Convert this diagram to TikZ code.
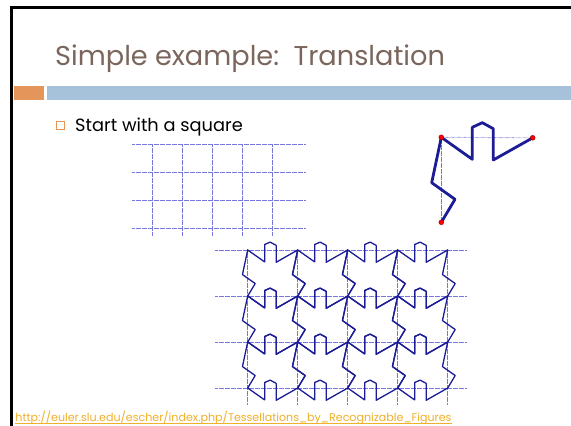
\documentclass[tikz,border=0pt]{standalone}
\usepackage{fontspec}
\setmainfont{Poppins}
\usetikzlibrary{positioning}
\definecolor{titlebrown}{RGB}{122,102,92}
\definecolor{accentorange}{RGB}{228,150,90}
\definecolor{accentblue}{RGB}{166,194,218}
\definecolor{tilenavy}{RGB}{28,28,150}
\definecolor{gridblue}{RGB}{120,120,220}
\definecolor{linkgold}{RGB}{240,176,40}
\tikzstyle{gridline} = [gridblue, line width=0.9pt, dash pattern=on 0.45pt off 0.75pt]
\tikzstyle{motif} = [tilenavy, line width=1.3pt, line join=round]
\tikzstyle{bigmotif} = [tilenavy, line width=2.8pt, line join=round]
\tikzstyle{corner} = [circle, fill=red, draw=red!50!black, line width=0.3pt,
           inner sep=0pt, minimum size=5pt]
\tikzstyle{textline} = [inner sep=0pt, anchor=base west]
\newcommand{\motiftile}{(0,0) -- (0.339,0.259) -- (0.339,-0.118) -- (0.448,-0.172)
  -- (0.569,-0.101) -- (0.569,0.267) -- (1,0) -- (0.895,0.534) -- (1.150,0.729)
  -- (1,1) -- (0.569,1.267) -- (0.569,0.899) -- (0.448,0.828) -- (0.339,0.882)
  -- (0.339,1.259) -- (0,1) -- (0.150,0.729) -- (-0.105,0.534) -- cycle}

\begin{document}
\begin{tikzpicture}[x=1pt, y=-1pt]
\useasboundingbox [fill=white] (0,0) rectangle (571,426);
% slide frame and header bars
\draw [black, line width=3pt] (11.8,426) -- (11.8,7.3) -- (571,7.3);
\fill [accentorange] (13.5,85.5) rectangle (43.5,99.5);
\fill [accentblue] (47,85.5) rectangle (571,99.5);
\node (title) [textline, text=titlebrown, font=\fontsize{27.2}{32}\selectfont]
   at (55,65) {Simple example:\ \ Translation};
\node (bullet) [draw=accentorange, line width=0.7pt, minimum size=8pt, inner sep=0pt]
   at (60,125.8) {};
\node (start) [textline, font=\fontsize{17.8}{20}\selectfont] at (75,131)
   {Start with a square};
% square grid
\foreach \y in {144.7,172.5,200.3,228.5}
  \draw [gridline] (132,\y) -- (305,\y);
\foreach \x in {152,182,212,242,272}
  \draw [gridline] (\x,144) -- (\x,236);
% deformed edges of one square
\coordinate (nw) at (441.3,137.3);
\coordinate (ne) at (532.7,137.8);
\coordinate (sw) at (441.3,222.3);
\draw [gridline] (nw) -- (ne);
\draw [gridline] (nw) -- (sw);
\draw [bigmotif] (nw) -- (472.3,159.3) -- (472.3,127.3) -- (482.3,122.7)
   -- (493.3,128.7) -- (493.3,160) -- (ne);
\draw [bigmotif] (nw) -- (431.7,182.7) -- (455,199.3) -- (sw);
\node (cornerNW) [corner] at (nw) {};
\node (cornerNE) [corner] at (ne) {};
\node (cornerSW) [corner] at (sw) {};
% translated tiles
\foreach \y in {250,296,342,388}
  \draw [gridline] (215,\y) -- (466,\y);
\foreach \x in {247.7,297.7,347.7,397.7,447.7}
  \draw [gridline] (\x,249) -- (\x,404);
\foreach \col in {0,...,3}
  \foreach \row in {0,1,2}
    \draw [motif, shift={({247.7+50*\col},{250+46*\row})}, xscale=50, yscale=46]
      \motiftile;
\node (link) [textline, text=linkgold, font=\fontsize{11.1}{13}\selectfont] at (15.3,421.5)
   {http://euler.slu.edu/escher/index.php/Tessellations\_by\_Recognizable\_Figures};
\draw [linkgold, line width=0.7pt] ([yshift=-2pt]link.base west) -- ([yshift=-2pt]link.base east);
\end{tikzpicture}
\end{document}
